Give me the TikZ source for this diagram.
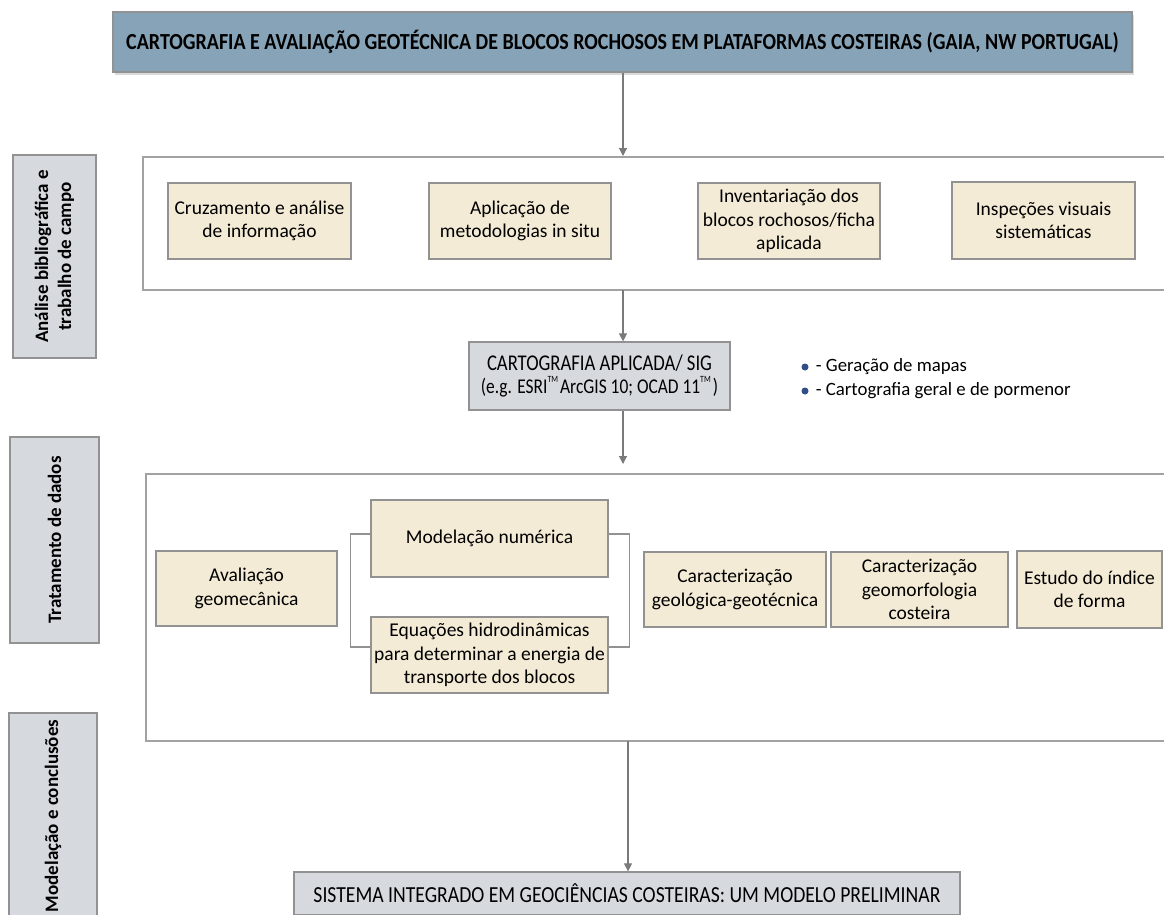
\documentclass[tikz,border=0pt]{standalone}
\usepackage{fontspec}
\setmainfont{Carlito}
\newfontfamily\headfont{Carlito}[FakeStretch=0.87]
\newfontfamily\sigfont{Carlito}[FakeStretch=0.83]
\newfontfamily\outfont{Carlito}[FakeStretch=0.855]
\usetikzlibrary{arrows.meta,shadows,positioning}

\definecolor{titlefill}{HTML}{87A3B7}
\definecolor{labelfill}{HTML}{D6DADF}
\definecolor{boxfill}{HTML}{F3EBD5}
\definecolor{edge}{HTML}{929292}
\definecolor{linegray}{HTML}{7A7A7A}
\definecolor{dotblue}{HTML}{2E4D8A}

% small raised trademark sign
\newcommand{\tmsign}{\raisebox{1.05ex}{\fontsize{9.5}{10}\selectfont TM}\hspace{2pt}}

\tikzset{
  boxbase/.style={draw=edge, line width=1.2pt, inner sep=0pt, align=center, text=black},
  beige/.style={boxbase, fill=boxfill, font=\fontsize{19.5}{23.5}\selectfont},
  graybox/.style={boxbase, fill=labelfill},
  sidelabel/.style={graybox, rotate=90, font=\bfseries\fontsize{19}{23}\selectfont},
  connector/.style={draw=linegray, line width=1.1pt, -{Triangle[width=8pt,length=8pt]}},
  framestyle/.style={draw=edge!85, line width=1.5pt},
  bracket/.style={draw=edge, line width=1.2pt},
  bulletdot/.style={circle, fill=dotblue, inner sep=0pt, minimum size=7pt},
  bullettext/.style={anchor=west, inner sep=0pt, font=\fontsize{18.8}{22}\selectfont}
}

\begin{document}
\begin{tikzpicture}[x=1pt, y=-1pt]
\useasboundingbox (0,0) rectangle (1164,915);
\clip (0,0) rectangle (1164,915);

% heading
\node[boxbase, fill=titlefill, minimum width=1019pt, minimum height=60pt,
      drop shadow={opacity=0.3, shadow xshift=2pt, shadow yshift=-3pt},
      font=\headfont\bfseries\fontsize{23}{26}\selectfont] (title) at (622.5,42)
  {CARTOGRAFIA E AVALIAÇÃO GEOTÉCNICA DE BLOCOS ROCHOSOS EM PLATAFORMAS COSTEIRAS (GAIA, NW PORTUGAL)};

% stage labels on the left
\node[sidelabel, minimum width=203pt, minimum height=83pt] (lab1) at (54.5,256.5)
  {Análise bibliográfica e\\trabalho de campo};
\node[sidelabel, minimum width=206pt, minimum height=89pt] (lab2) at (54.5,540)
  {Tratamento de dados};
\node[sidelabel, minimum width=206pt, minimum height=88pt] (lab3) at (53,816)
  {Modelação e conclusões};

% first stage frame
\draw[framestyle] (1164,157) -- (143,157) -- (143,290) -- (1164,290);
\coordinate (f1top) at (623,157);
\coordinate (f1bot) at (623,290);

\node[beige, minimum width=183pt, minimum height=76pt] (b1) at (259.5,221)
  {Cruzamento e análise\\de informação};
\node[beige, minimum width=182pt, minimum height=76pt] (b2) at (520,221)
  {Aplicação de\\metodologias in situ};
\node[beige, minimum width=182pt, minimum height=76pt] (b3) at (789,221)
  {Inventariação dos\\blocos rochosos/ficha\\aplicada};
\node[beige, minimum width=183pt, minimum height=77pt] (b4) at (1043.5,220.5)
  {Inspeções visuais\\sistemáticas};

% GIS box and its notes
\node[graybox, minimum width=261pt, minimum height=68pt,
      font=\sigfont\fontsize{22.5}{23}\selectfont] (sig) at (599.5,376)
  {CARTOGRAFIA APLICADA/ SIG\\{\fontsize{21}{23}\selectfont (e.g. ESRI\tmsign ArcGIS 10; OCAD 11\tmsign)}};
\node[bulletdot] (d1) at (805,367) {};
\node[bulletdot] (d2) at (805,391) {};
\node[bullettext, right=7pt of d1] (t1) {- Geração de mapas};
\node[bullettext, right=7pt of d2] (t2) {- Cartografia geral e de pormenor};

% second stage frame
\draw[framestyle] (1164,474) -- (146,474) -- (146,741) -- (1164,741);
\coordinate (f2top) at (623,474);
\coordinate (f2bot) at (628,741);

\node[beige, minimum width=181pt, minimum height=75pt] (av) at (246.5,588.5)
  {Avaliação\\geomecânica};
\node[beige, minimum width=237pt, minimum height=77pt] (mod) at (489.5,538.5)
  {Modelação numérica};
\node[beige, minimum width=237pt, minimum height=76pt] (eq) at (489.5,655)
  {Equações hidrodinâmicas\\para determinar a energia de\\transporte dos blocos};
\node[beige, minimum width=182pt, minimum height=75pt] (geol) at (735,589.5)
  {Caracterização\\geológica-geotécnica};
\node[beige, minimum width=177pt, minimum height=75pt] (geom) at (919.5,589.5)
  {Caracterização\\geomorfologia\\costeira};
\node[beige, minimum width=145pt, minimum height=77pt] (est) at (1089.5,589.5)
  {Estudo do índice\\de forma};

% brackets joining the two modelling boxes
\draw[bracket] ([yshift=4.5pt]mod.west) -- ++(-20,0) |- ([yshift=8pt]eq.west);
\draw[bracket] ([yshift=4.5pt]mod.east) -- ++(21,0) |- ([yshift=8pt]eq.east);

% final outcome
\node[graybox, minimum width=666pt, minimum height=43pt,
      font=\outfont\fontsize{23}{26}\selectfont] (sis) at (627,893.5)
  {SISTEMA INTEGRADO EM GEOCIÊNCIAS COSTEIRAS: UM MODELO PRELIMINAR};

% flow arrows
\draw[connector, shorten >=1pt] (title.south -| f1top) -- (f1top);
\draw[connector] (f1bot) -- (f1bot |- sig.north);
\draw[connector, shorten >=10pt] (sig.south -| f2top) -- (f2top);
\draw[connector] (f2bot) -- (f2bot |- sis.north);
\end{tikzpicture}
\end{document}
